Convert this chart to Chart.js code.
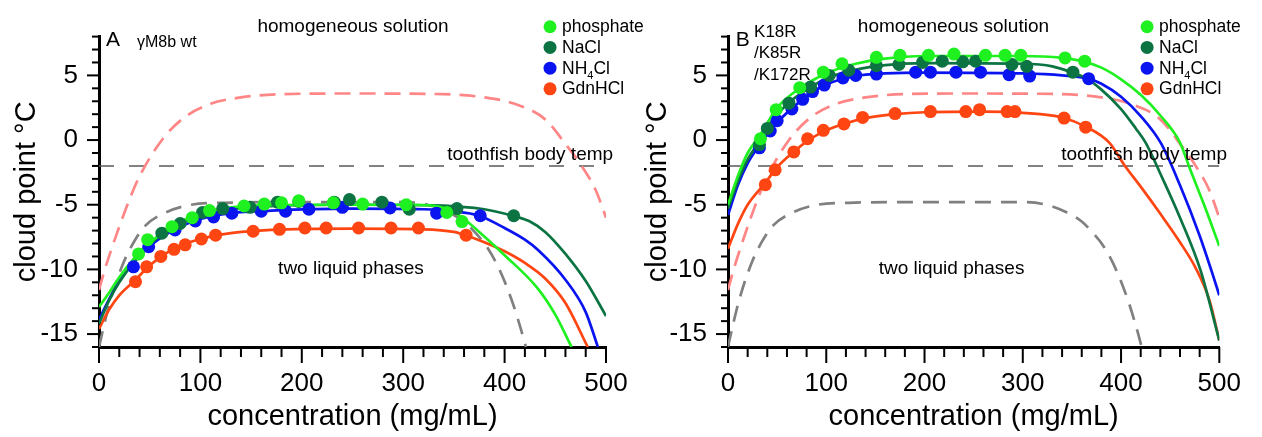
<!DOCTYPE html>
<html>
<head>
<meta charset="utf-8">
<script src="https://cdn.jsdelivr.net/npm/chart.js@4.4.0/dist/chart.umd.min.js"></script>
<style>
  body { margin: 0; background: #fff; }
  #wrap { position: relative; width: 1262px; height: 437px; overflow: hidden; }
  #wrap canvas { position: absolute; top: 0; }
  #chartA { left: 0; }
  #chartB { left: 631px; }
</style>
</head>
<body>
<div id="wrap">
  <canvas id="chartA" width="660" height="437"></canvas>
  <canvas id="chartB" width="631" height="437"></canvas>
</div>
<script>
// ---- panel A: gammaM8b wt ----
var aPhosX = [39, 48, 72, 92, 109, 143, 163, 180, 197, 231, 260, 303, 343, 358];
var aPhosY = [-8.8, -7.7, -6.7, -6.0, -5.45, -5.1, -4.95, -4.85, -4.7, -4.85, -4.95, -5.0, -5.6, -6.3];
var aNaclX = [62, 80, 102, 122, 149, 176, 197, 232, 247, 279, 306, 353, 409];
var aNaclY = [-7.2, -6.45, -5.6, -5.3, -5.2, -4.8, -4.75, -4.8, -4.6, -4.8, -5.35, -5.3, -5.85];
var aNh4X = [34, 49, 75, 95, 113, 131, 160, 184, 207, 240, 287, 333, 376];
var aNh4Y = [-9.8, -8.25, -6.95, -6.25, -5.95, -5.65, -5.5, -5.5, -5.35, -5.2, -5.25, -5.65, -5.85];
var aGdnX = [36, 47, 61, 74, 85, 101, 115, 152, 178, 203, 224, 256, 288, 315, 362];
var aGdnY = [-10.95, -9.8, -9.0, -8.45, -8.1, -7.65, -7.35, -7.05, -6.9, -6.8, -6.8, -6.8, -6.8, -6.8, -7.35];

// fitted curves A
var aPhosFitX = [0, 10, 20, 33, 49, 72, 100, 130, 170, 250, 310, 335, 350, 360, 375, 400, 433, 450, 466];
var aPhosFitY = [-12.9, -11.8, -10.6, -9.3, -8.0, -6.7, -5.65, -5.2, -5.02, -5.0, -5.0, -5.15, -5.6, -6.1, -7.1, -8.9, -11.5, -13.5, -16];
var aNaclFitX = [0, 10, 20, 40, 60, 80, 100, 130, 170, 250, 330, 370, 390, 410, 425, 440, 460, 480, 500];
var aNaclFitY = [-14.2, -12.4, -11.0, -8.9, -7.4, -6.45, -5.85, -5.35, -5.1, -5.0, -5.05, -5.25, -5.5, -5.9, -6.3, -7.1, -8.8, -10.9, -13.6];
var aNh4FitX = [0, 10, 20, 35, 50, 75, 100, 130, 170, 250, 320, 350, 375, 400, 420, 433, 460, 480, 492];
var aNh4FitY = [-13.9, -12.3, -10.9, -9.4, -8.2, -6.9, -6.1, -5.65, -5.45, -5.3, -5.35, -5.5, -5.85, -6.8, -7.7, -8.5, -10.8, -13.3, -16];
var aGdnFitX = [0, 10, 20, 36, 50, 75, 100, 130, 170, 250, 320, 350, 365, 380, 400, 420, 440, 460, 482];
var aGdnFitY = [-14.6, -13.1, -12.0, -10.8, -9.7, -8.35, -7.65, -7.2, -6.95, -6.85, -6.9, -7.1, -7.45, -7.9, -8.6, -9.5, -10.7, -12.6, -16];

// ---- panel B: K18R/K85R/K172R ----
var bPhosX = [33, 49, 73, 97, 116, 151, 175, 204, 230, 262, 282, 298, 343, 363];
var bPhosY = [0.1, 2.35, 4.05, 5.25, 5.9, 6.4, 6.55, 6.55, 6.65, 6.55, 6.55, 6.55, 6.35, 6.1];
var bNaclX = [32, 40, 62, 84, 103, 123, 151, 174, 198, 218, 239, 252, 289, 304, 351];
var bNaclY = [-0.35, 0.9, 2.85, 4.1, 5.0, 5.4, 5.75, 5.85, 6.0, 6.1, 6.05, 6.1, 5.85, 5.7, 5.25];
var bNh4X = [32, 43, 50, 65, 76, 86, 98, 117, 130, 151, 191, 206, 232, 257, 286, 307, 367];
var bNh4Y = [-0.6, 0.7, 1.5, 2.4, 3.15, 3.75, 4.25, 4.8, 5.0, 5.1, 5.25, 5.25, 5.25, 5.25, 5.05, 4.95, 4.75];
var bGdnX = [38, 48, 67, 81, 97, 118, 137, 170, 206, 242, 256, 284, 292, 342, 364];
var bGdnY = [-3.45, -2.3, -0.92, 0.1, 0.75, 1.25, 1.75, 2.05, 2.2, 2.2, 2.35, 2.2, 2.2, 1.7, 1.0];

var bPhosFitX = [0, 10, 20, 32, 50, 75, 100, 130, 160, 200, 300, 340, 363, 380, 400, 420, 440, 460, 470, 485, 500];
var bPhosFitY = [-5.0, -2.8, -1.0, 0.3, 2.5, 4.1, 5.15, 5.9, 6.3, 6.5, 6.5, 6.35, 6.05, 5.6, 4.7, 3.5, 1.9, -0.2, -2.2, -5.1, -8.2];
var bNaclFitX = [0, 10, 20, 32, 45, 62, 84, 103, 130, 160, 200, 300, 330, 351, 365, 380, 400, 415, 425, 440, 460, 481, 500];
var bNaclFitY = [-5.3, -3.2, -1.5, -0.1, 1.5, 2.9, 4.1, 4.85, 5.45, 5.8, 5.95, 5.9, 5.7, 5.2, 4.75, 3.9, 2.4, 0.9, -0.2, -2.6, -6.0, -10.1, -15.5];
var bNh4FitX = [0, 10, 20, 32, 45, 65, 86, 100, 130, 160, 200, 300, 340, 367, 380, 400, 420, 441, 460, 480, 492, 500];
var bNh4FitY = [-5.8, -3.5, -1.8, -0.4, 0.95, 2.45, 3.7, 4.3, 4.95, 5.15, 5.22, 5.15, 5.0, 4.75, 4.35, 3.35, 1.85, -0.3, -3.5, -7.4, -10.1, -12.0];
var bGdnFitX = [0, 10, 20, 38, 50, 67, 82, 100, 120, 140, 170, 200, 260, 300, 340, 365, 388, 404, 420, 440, 460, 476, 490, 500];
var bGdnFitY = [-8.4, -6.5, -5.0, -3.3, -2.1, -0.9, 0.0, 0.75, 1.3, 1.7, 2.0, 2.15, 2.2, 2.1, 1.75, 1.0, -0.2, -2.0, -3.6, -5.7, -7.9, -9.9, -12.4, -15.5];

// dashed reference boundaries, same in both panels
var refPinkX = [0, 5, 12, 20, 30, 40, 63, 85, 110, 140, 180, 250, 340, 380, 410, 440, 460, 476, 490, 500];
var refPinkY = [-11.6, -10.2, -8.5, -6.7, -4.6, -2.8, 0.1, 1.8, 2.8, 3.3, 3.55, 3.6, 3.55, 3.3, 2.8, 1.6, -0.3, -2.0, -3.9, -6.0];
var refGrayX = [0, 5, 12, 24, 35, 46, 63, 91, 123, 182, 300, 324, 345, 360, 368, 383, 396, 408, 416, 421];
var refGrayY = [-16, -14.3, -12.2, -9.5, -7.8, -6.6, -5.7, -5.0, -4.85, -4.8, -4.8, -5.0, -5.6, -6.3, -6.9, -8.3, -10.2, -12.6, -14.6, -16];

var bodyTemp = -2;     // toothfish body temperature
var xRange = [0, 500];
var yRange = [-16, 8];

var legendLabels = ['phosphate', 'NaCl', 'NH_4Cl', 'GdnHCl'];

var FONT = '"Liberation Sans", Arial, Helvetica, sans-serif';
var COLORS = {
    phos: '#1ff01f',
    nacl: '#0c7443',
    nh4: '#0a14f0',
    gdn: '#ff4511',
    pink: '#ff8686',
    gray: '#808080',
    temp: '#5a5a5a'
};

function pts(xs, ys) {
    return xs.map(function(x, i) { return {x: x, y: ys[i]}; });
}

function dots(xs, ys, color) {
    return {data: pts(xs, ys), showLine: false, pointRadius: 6.5, pointHoverRadius: 6.5,
        pointBackgroundColor: color, pointBorderColor: color, pointBorderWidth: 0};
}

function curve(xs, ys, color, dash, width) {
    return {data: pts(xs, ys), showLine: true, pointRadius: 0, borderColor: color,
        borderWidth: width || 2.7, borderDash: dash || [], cubicInterpolationMode: 'monotone', fill: false};
}

// draws "NH_4Cl" with a subscript 4
function drawRich(ctx, str, x, y, size) {
    var parts = str.split('_');
    ctx.font = size + 'px ' + FONT;
    var cx = x;
    ctx.fillText(parts[0], cx, y);
    cx += ctx.measureText(parts[0]).width;
    if (parts.length > 1) {
        var sub = parts[1].charAt(0), rest = parts[1].slice(1);
        ctx.font = Math.round(size * 0.62) + 'px ' + FONT;
        ctx.fillText(sub, cx, y + size * 0.3);
        cx += ctx.measureText(sub).width;
        ctx.font = size + 'px ' + FONT;
        ctx.fillText(rest, cx, y);
    }
}

var panelDecor = {
    id: 'panelDecor',
    afterDraw: function(chart, args, opts) {
        var ctx = chart.ctx;
        var xs = chart.scales.x, ys = chart.scales.y;
        var area = chart.chartArea;
        ctx.save();
        // outward tick marks, long ones at labelled values
        ctx.strokeStyle = '#000';
        ctx.lineWidth = 2;
        xs.ticks.forEach(function(t) {
            var px = xs.getPixelForValue(t.value);
            var len = t.value % 100 === 0 ? 16 : 10;
            ctx.beginPath();
            ctx.moveTo(px, area.bottom);
            ctx.lineTo(px, area.bottom + len);
            ctx.stroke();
        });
        ys.ticks.forEach(function(t) {
            var py = ys.getPixelForValue(t.value);
            var len = t.value % 5 === 0 ? 12 : 7;
            ctx.beginPath();
            ctx.moveTo(area.left, py);
            ctx.lineTo(area.left - len, py);
            ctx.stroke();
        });

        // text notes
        ctx.fillStyle = '#000';
        ctx.textBaseline = 'alphabetic';
        opts.notes.forEach(function(n) {
            ctx.font = n.size + 'px ' + FONT;
            ctx.textAlign = n.align;
            ctx.fillText(n.text, xs.getPixelForValue(n.x), ys.getPixelForValue(n.y));
        });

        // legend
        var lg = opts.legend;
        var dx = xs.getPixelForValue(lg.x);
        var tx = xs.getPixelForValue(lg.textX);
        var y0 = ys.getPixelForValue(lg.y);
        var cols = [COLORS.phos, COLORS.nacl, COLORS.nh4, COLORS.gdn];
        ctx.textAlign = 'left';
        legendLabels.forEach(function(lab, i) {
            var cy = y0 + i * lg.gap;
            ctx.fillStyle = cols[i];
            ctx.beginPath();
            ctx.arc(dx, cy, 6.5, 0, Math.PI * 2);
            ctx.fill();
            ctx.fillStyle = '#000';
            drawRich(ctx, lab, tx, cy + 5.5, 17.5);
        });
        ctx.restore();
    }
};

function makeChart(id, sets, axisWidth, padRight, notes, legend) {
    var datasets = [
        dots(sets.phos[0], sets.phos[1], COLORS.phos),
        dots(sets.nacl[0], sets.nacl[1], COLORS.nacl),
        dots(sets.nh4[0], sets.nh4[1], COLORS.nh4),
        dots(sets.gdn[0], sets.gdn[1], COLORS.gdn),
        curve(sets.phosFit[0], sets.phosFit[1], COLORS.phos),
        curve(sets.naclFit[0], sets.naclFit[1], COLORS.nacl),
        curve(sets.nh4Fit[0], sets.nh4Fit[1], COLORS.nh4),
        curve(sets.gdnFit[0], sets.gdnFit[1], COLORS.gdn),
        curve(refPinkX, refPinkY, COLORS.pink, [16, 9], 2.7),
        curve(refGrayX, refGrayY, COLORS.gray, [16, 10], 2.7),
        curve(xRange, [bodyTemp, bodyTemp], COLORS.temp, [15, 15], 1.5)
    ];
    return new Chart(document.getElementById(id), {
        type: 'scatter',
        data: {datasets: datasets},
        options: {
            responsive: false,
            animation: false,
            events: [],
            layout: {padding: {left: 0, right: padRight, top: 33, bottom: 0}},
            plugins: {
                legend: {display: false},
                tooltip: {enabled: false},
                panelDecor: {notes: notes, legend: legend}
            },
            scales: {
                x: {
                    type: 'linear', min: xRange[0], max: xRange[1],
                    afterFit: function(s) { s.height = 90; },
                    grid: {display: false, drawTicks: false},
                    border: {display: true, color: '#000', width: 3},
                    ticks: {stepSize: 20, autoSkip: false, maxRotation: 0, padding: 21, color: '#000',
                        font: {size: 26, family: FONT},
                        callback: function(v) { return v % 100 === 0 ? String(v) : ''; }},
                    title: {display: true, text: 'concentration (mg/mL)', color: '#000',
                        font: {size: 29, family: FONT}, padding: {top: 0, bottom: 3}}
                },
                y: {
                    type: 'linear', min: yRange[0], max: yRange[1],
                    afterFit: function(s) { s.width = axisWidth; },
                    grid: {display: false, drawTicks: false},
                    border: {display: true, color: '#000', width: 3},
                    ticks: {stepSize: 1, autoSkip: false, padding: 21, color: '#000',
                        font: {size: 26, family: FONT},
                        callback: function(v) { return v % 5 === 0 ? String(v) : ''; }},
                    title: {display: true, text: 'cloud point °C', color: '#000',
                        font: {size: 29, family: FONT}, padding: {top: 10, bottom: 0}}
                }
            }
        },
        plugins: [panelDecor]
    });
}

makeChart('chartA', {
    phos: [aPhosX, aPhosY], nacl: [aNaclX, aNaclY], nh4: [aNh4X, aNh4Y], gdn: [aGdnX, aGdnY],
    phosFit: [aPhosFitX, aPhosFitY], naclFit: [aNaclFitX, aNaclFitY],
    nh4Fit: [aNh4FitX, aNh4FitY], gdnFit: [aGdnFitX, aGdnFitY]
}, 99, 54, [
    {text: 'homogeneous solution', x: 250.5, y: 8.38, align: 'center', size: 19},
    {text: 'two liquid phases', x: 248.5, y: -10.34, align: 'center', size: 19},
    {text: 'toothfish body temp', x: 507, y: -1.55, align: 'right', size: 19},
    {text: 'A', x: 6.9, y: 7.31, align: 'left', size: 21},
    {text: 'γM8b wt', x: 37.5, y: 7.16, align: 'left', size: 16}
], {x: 444.8, textX: 456.6, y: 8.76, gap: 20.7});

makeChart('chartB', {
    phos: [bPhosX, bPhosY], nacl: [bNaclX, bNaclY], nh4: [bNh4X, bNh4Y], gdn: [bGdnX, bGdnY],
    phosFit: [bPhosFitX, bPhosFitY], naclFit: [bNaclFitX, bNaclFitY],
    nh4Fit: [bNh4FitX, bNh4FitY], gdnFit: [bGdnFitX, bGdnFitY]
}, 97, 24, [
    {text: 'homogeneous solution', x: 229.4, y: 8.38, align: 'center', size: 19},
    {text: 'two liquid phases', x: 227.5, y: -10.34, align: 'center', size: 19},
    {text: 'toothfish body temp', x: 507.8, y: -1.55, align: 'right', size: 19},
    {text: 'B', x: 7.8, y: 7.31, align: 'left', size: 21},
    {text: 'K18R', x: 26.5, y: 8.0, align: 'left', size: 17},
    {text: '/K85R', x: 26.5, y: 6.32, align: 'left', size: 17},
    {text: '/K172R', x: 26.5, y: 4.64, align: 'left', size: 17}
], {x: 426.5, textX: 438.7, y: 8.76, gap: 20.7});
</script>
</body>
</html>
